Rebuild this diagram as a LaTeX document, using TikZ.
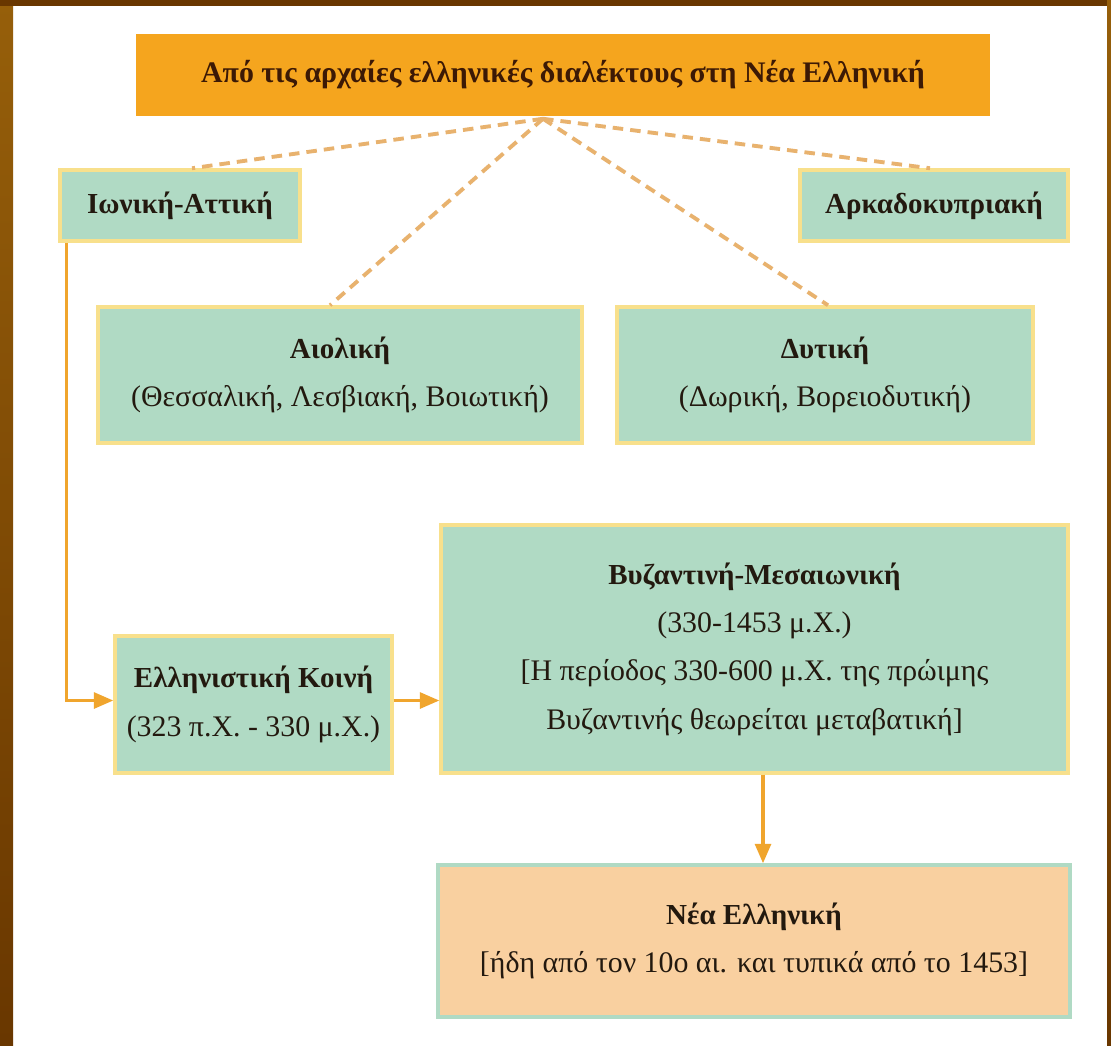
\documentclass[tikz,border=0pt]{standalone}
\usepackage{fontspec}
\setmainfont{Liberation Serif}
\usetikzlibrary{arrows.meta,calc}
\definecolor{brownA}{RGB}{150,95,10}
\definecolor{brownB}{RGB}{105,55,0}
\definecolor{titleorange}{RGB}{245,165,30}
\definecolor{boxgreen}{RGB}{176,218,196}
\definecolor{boxedge}{RGB}{248,224,140}
\definecolor{peach}{RGB}{249,208,160}
\definecolor{dashcol}{RGB}{232,178,110}
\definecolor{arrowcol}{RGB}{240,165,45}
\definecolor{ink}{RGB}{35,25,15}
\definecolor{titleink}{RGB}{60,25,5}
\tikzset{
  base/.style={inner sep=0pt, align=center, text=ink, line width=2pt},
  titlebox/.style={base, fill=titleorange, draw=titleorange, text=titleink, font=\fontsize{17}{20}\selectfont\bfseries},
  greenbox/.style={base, fill=boxgreen, draw=boxedge, font=\fontsize{17}{27.5}\selectfont},
  peachbox/.style={base, fill=peach, draw=boxgreen, font=\fontsize{17}{27.5}\selectfont},
  dashlink/.style={draw=dashcol, line width=2.2pt, dash pattern=on 6pt off 4pt},
  flow/.style={draw=arrowcol, line width=1.8pt, -{Triangle[length=11pt,width=9pt]}},
}
\newcommand{\hd}[1]{{\fontsize{16.5}{27.5}\selectfont\bfseries #1}}
\begin{document}
\begin{tikzpicture}[x=0.02cm,y=-0.02cm]
\useasboundingbox (0,0) rectangle (1111,1045);
\fill[white] (0,0) rectangle (1111,1045);
% brown frame
\shade[top color=brownA,bottom color=brownB] (0,0) rectangle (13,1045);
\fill[brownB] (0,0) rectangle (1111,6);
\shade[top color=brownA,bottom color=brownB] (1107,0) rectangle (1111,1045);

\node[titlebox, minimum width=17cm, minimum height=1.56cm] (title) at (563,75)
  {Από τις αρχαίες ελληνικές διαλέκτους στη Νέα Ελληνική};
\node[greenbox, minimum width=4.8cm, minimum height=1.42cm] (ion) at (180,205.5)
  {\hd{Ιωνική-Αττική}};
\node[greenbox, minimum width=5.36cm, minimum height=1.42cm] (ark) at (934,205.5)
  {\hd{Αρκαδοκυπριακή}};
\node[greenbox, minimum width=9.68cm, minimum height=2.72cm] (aio) at (340,375)
  {\hd{Αιολική}\\(Θεσσαλική, Λεσβιακή, Βοιωτική)};
\node[greenbox, minimum width=8.32cm, minimum height=2.72cm] (dyt) at (825,375)
  {\hd{Δυτική}\\(Δωρική, Βορειοδυτική)};
\node[greenbox, minimum width=5.54cm, minimum height=2.74cm] (ell) at (253.5,704.5)
  {\hd{Ελληνιστική Κοινή}\\(323 π.Χ. - 330 μ.Χ.)};
\node[greenbox, minimum width=12.54cm, minimum height=4.96cm] (byz) at (754.5,649)
  {\hd{Βυζαντινή-Μεσαιωνική}\\(330-1453 μ.Χ.)\\{}[Η περίοδος 330-600 μ.Χ. της πρώιμης\\Βυζαντινής θεωρείται μεταβατική]};
\node[peachbox, minimum width=12.64cm, minimum height=3.04cm] (nea) at (754,941)
  {\hd{Νέα Ελληνική}\\{}[ήδη από τον 10ο αι. και τυπικά από το 1453]};

% dashed links
\coordinate (hub) at ($(title.south)+(-20,3)$);
\draw[dashlink] (hub) -- ([xshift=0.24cm]ion.north);
\draw[dashlink] (hub) -- ([xshift=-0.2cm]aio.north);
\draw[dashlink] (hub) -- ([xshift=0.06cm]dyt.north);
\draw[dashlink] (hub) -- ([xshift=-0.08cm]ark.north);

% arrows
\draw[flow] ([xshift=0.16cm]ion.south west) |- ([yshift=0.08cm]ell.west);
\draw[flow] ([yshift=0.08cm]ell.east) -- ([yshift=0.08cm]ell.east -| byz.west);
\draw[flow] ([xshift=0.17cm]byz.south) -- ([xshift=0.17cm]byz.south |- nea.north);
\end{tikzpicture}
\end{document}
